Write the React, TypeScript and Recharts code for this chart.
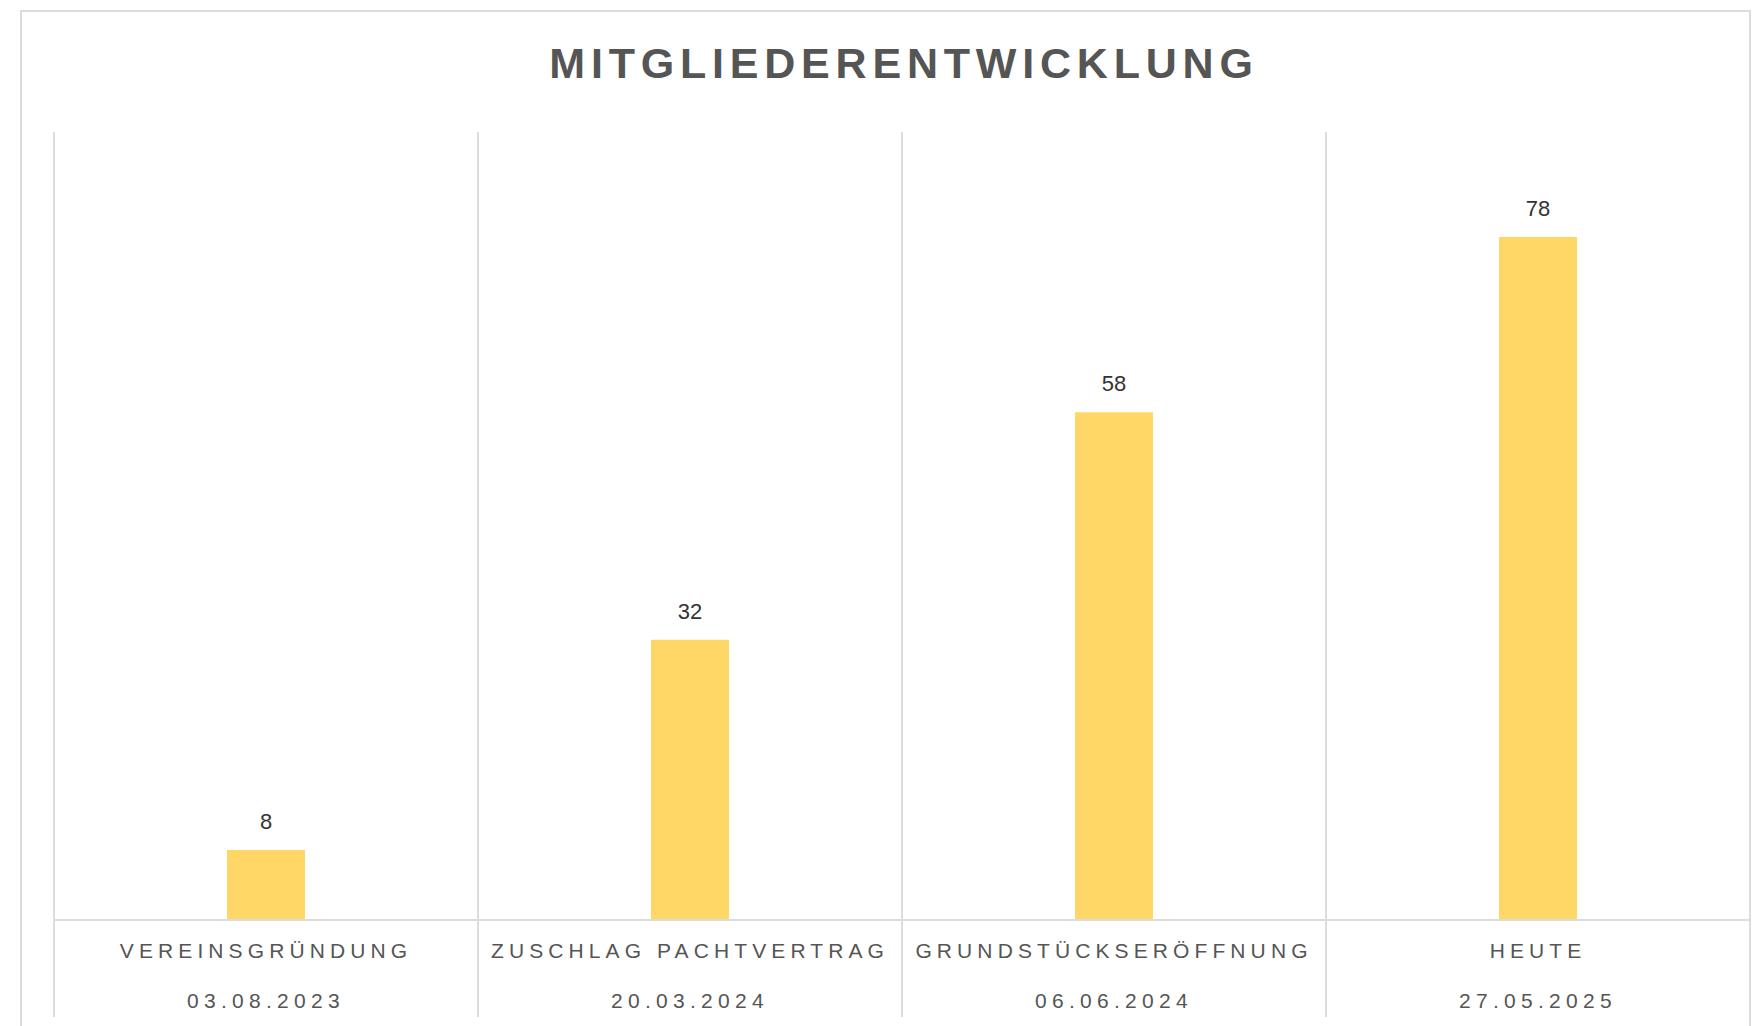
import React from 'react';
import { BarChart, Bar, XAxis, YAxis, CartesianGrid, LabelList } from 'recharts';

const categories = ['VEREINSGRÜNDUNG', 'ZUSCHLAG PACHTVERTRAG', 'GRUNDSTÜCKSERÖFFNUNG', 'HEUTE'];
const dates = ['03.08.2023', '20.03.2024', '06.06.2024', '27.05.2025'];
const members = [8, 32, 58, 78];
const yMax = 90;

const FONT = '"Liberation Sans", Arial, Helvetica, sans-serif';
const LINE = '#dcdcdc';

const data = categories.map((category, i) => ({
  category,
  date: dates[i],
  members: members[i],
}));

function CategoryTick(props: any) {
  const { x, y, payload, index, visibleTicksCount } = props;
  const half = payload.offset ?? 0;
  const date = dates[index];
  return (
    <g>
      <line x1={x - half} x2={x - half} y1={y} y2={y + 97} stroke={LINE} strokeWidth={2} />
      {index === visibleTicksCount - 1 && (
        <line x1={x + half} x2={x + half} y1={y} y2={y + 97} stroke={LINE} strokeWidth={2} />
      )}
      <text x={x} y={y + 38} textAnchor="middle" fill="#555" fontSize={21} letterSpacing={5.1} fontFamily={FONT}>
        {payload.value}
      </text>
      <text x={x} y={y + 88} textAnchor="middle" fill="#555" fontSize={21} letterSpacing={5.3} fontFamily={FONT}>
        {date}
      </text>
    </g>
  );
}

export default function App() {
  return (
    <div style={{ position: 'absolute', left: 0, top: 0, width: 1756, height: 1026, overflow: 'hidden', background: '#fff' }}>
      {/* card frame, bottom edge runs off the page */}
      <div
        style={{
          position: 'absolute',
          left: 20,
          top: 10,
          width: 1731,
          height: 1040,
          border: '2px solid #dcdcdc',
          boxSizing: 'border-box',
        }}
      />
      <div
        style={{
          position: 'absolute',
          left: 0,
          width: 1808,
          top: 42,
          lineHeight: '43px',
          textAlign: 'center',
          fontFamily: FONT,
          fontWeight: 700,
          fontSize: 43,
          letterSpacing: 5.8,
          color: '#555',
        }}
      >
        MITGLIEDERENTWICKLUNG
      </div>
      <div style={{ position: 'absolute', left: 0, top: 0 }}>
        <BarChart
          width={1756}
          height={1026}
          data={data}
          margin={{ top: 132, left: 54, right: 6, bottom: 0 }}
        >
          <CartesianGrid
            horizontal={false}
            stroke={LINE}
            strokeWidth={2}
            verticalCoordinatesGenerator={({ offset }: any) =>
              Array.from({ length: categories.length + 1 }, (_, i) => offset.left + (offset.width * i) / categories.length)
            }
          />
          <XAxis
            dataKey="category"
            axisLine={{ stroke: LINE, strokeWidth: 2 }}
            tickLine={false}
            tickSize={0}
            tickMargin={0}
            interval={0}
            height={106}
            tick={<CategoryTick />}
          />
          <YAxis hide domain={[0, yMax]} />
          <Bar dataKey="members" fill="#FFD766" barSize={78} isAnimationActive={false}>
            <LabelList
              dataKey="members"
              position="top"
              offset={21}
              fill="#333"
              fontSize={22}
              fontFamily={FONT}
            />
          </Bar>
        </BarChart>
      </div>
    </div>
  );
}
